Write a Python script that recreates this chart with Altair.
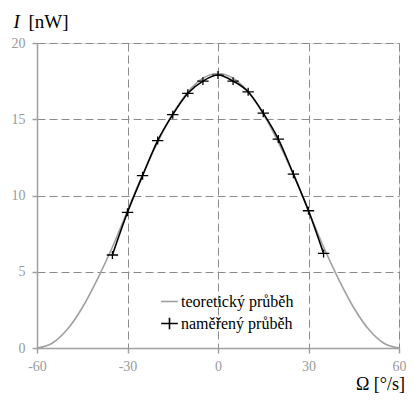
import altair as alt
import pandas as pd

# theoretical curve
theory_x = [-60, -55, -50, -45, -40, -35, -30, -25, -20, -15, -10, -5, 0,
            5, 10, 15, 20, 25, 30, 35, 40, 45, 50, 55, 60]
theory_y = [0.0, 0.31, 1.21, 2.64, 4.5, 6.62, 9.0, 11.38, 13.5, 15.36, 16.79, 17.69, 18.0,
            17.69, 16.79, 15.36, 13.5, 11.38, 9.0, 6.62, 4.5, 2.64, 1.21, 0.31, 0.0]

# measured points
meas_x = [-35, -30, -25, -20, -15, -10, -5, 0, 5, 10, 15, 20, 25, 30, 35]
meas_y = [6.1, 8.9, 11.3, 13.6, 15.3, 16.7, 17.5, 17.9, 17.5, 16.8, 15.4, 13.7, 11.4, 9.0, 6.2]

series_names = ["teoretický průběh", "naměřený průběh"]
x_ticks = [-60, -30, 0, 30, 60]
y_ticks = [0, 5, 10, 15, 20]

theory = pd.DataFrame({"x": theory_x, "y": theory_y, "s": series_names[0]})
meas = pd.DataFrame({"x": meas_x, "y": meas_y, "s": series_names[1]})

FONT = "'Liberation Serif', 'Times New Roman', serif"
AX = "#a0a0a0"

xs = alt.Scale(domain=[-60, 60], nice=False, zero=False)
ys = alt.Scale(domain=[0, 20], nice=False)

common = dict(grid=True, gridDash=[8, 4], gridColor="#8a8a8a", gridWidth=1,
              domainColor=AX, domainWidth=1.5, tickColor=AX, tickWidth=1.5, tickSize=5,
              labelFont=FONT, labelFontSize=14, labelColor="#9a9a9a",
              labelFlush=False, title=None, labelExpr="'' + datum.value")
xaxis = alt.Axis(values=x_ticks, labelPadding=6, **common)
yaxis = alt.Axis(values=y_ticks, labelPadding=7, **common)

theory_line = alt.Chart(theory).mark_line(color="#a0a0a0", strokeWidth=1.6, interpolate="monotone").encode(
    x=alt.X("x:Q", scale=xs, axis=xaxis),
    y=alt.Y("y:Q", scale=ys, axis=yaxis),
)

meas_line = alt.Chart(meas).mark_line(color="black", strokeWidth=1.6, interpolate="monotone").encode(
    x=alt.X("x:Q", scale=xs),
    y=alt.Y("y:Q", scale=ys),
)

leg = dict(orient="none", legendX=123, legendY=249, title=None, symbolSize=280,
           symbolStrokeWidth=1.6, labelFont=FONT, labelFontSize=16, labelColor="black",
           rowPadding=4, labelOffset=2, padding=0)

points = alt.Chart(meas).mark_point(filled=False, size=130, strokeWidth=1.3, opacity=1).encode(
    x=alt.X("x:Q", scale=xs),
    y=alt.Y("y:Q", scale=ys),
    color=alt.Color("s:N", scale=alt.Scale(domain=series_names, range=["#a0a0a0", "black"]),
                    legend=alt.Legend(**leg)),
    shape=alt.Shape("s:N", scale=alt.Scale(domain=series_names,
                                           range=["M-1,0L1,0", "M-1,0L1,0M0,-0.7L0,0.7"]),
                    legend=alt.Legend(**leg)),
)

dummy = pd.DataFrame({"a": [0]})
t_I = alt.Chart(dummy).mark_text(text="I", font=FONT, fontStyle="italic", fontSize=19,
                                 color="black", align="left", baseline="alphabetic").encode(
    x=alt.value(-23.5), y=alt.value(-15))
t_nW = alt.Chart(dummy).mark_text(text="[nW]", font=FONT, fontSize=19,
                                  color="black", align="left", baseline="alphabetic").encode(
    x=alt.value(-8.5), y=alt.value(-15))
t_om = alt.Chart(dummy).mark_text(text="Ω [°/s]", font=FONT, fontSize=18,
                                  color="black", align="right", baseline="alphabetic").encode(
    x=alt.value(368), y=alt.value(346.5))

chart = alt.layer(theory_line, meas_line, points, t_I, t_nW, t_om).properties(
    width=362, height=305,
    autosize=alt.AutoSizeParams(type="none"),
    padding={"left": 29, "top": 35, "right": 7, "bottom": 45},
).configure_view(stroke=AX, strokeWidth=1.5).configure_legend(
    labelFont=FONT, labelFontSize=16, labelColor="black"
).configure(background="white", font=FONT)

chart.save("out.html", embed_options={"renderer": "svg", "actions": False})
